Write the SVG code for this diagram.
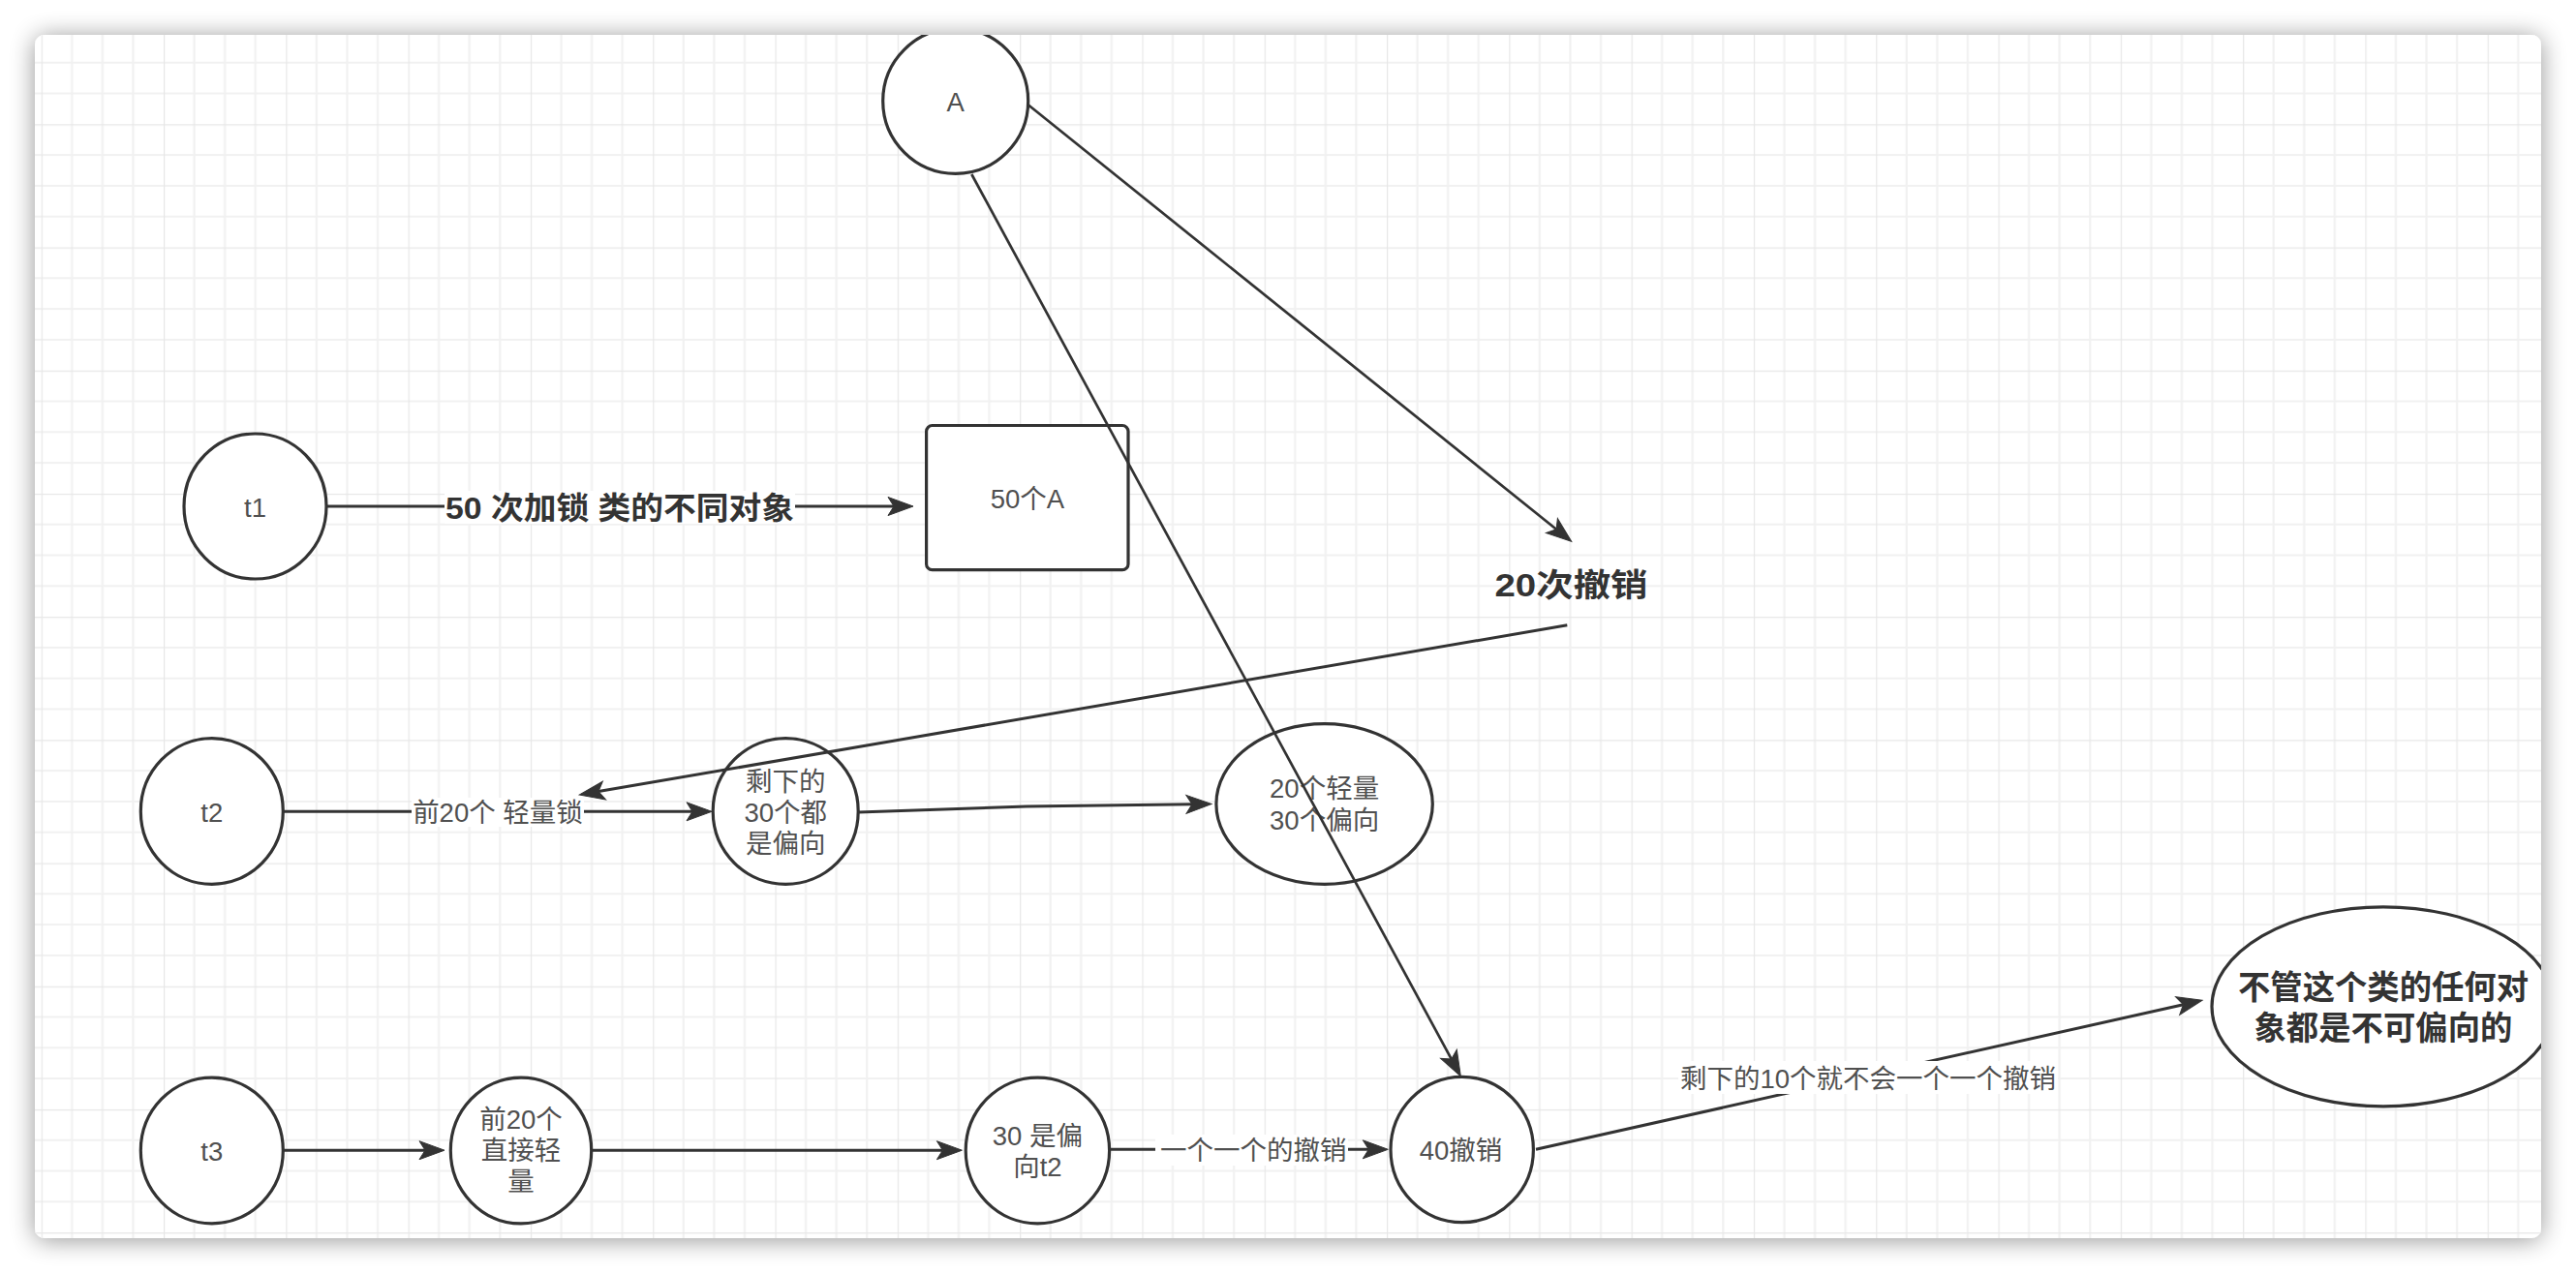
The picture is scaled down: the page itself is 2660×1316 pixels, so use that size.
<svg xmlns="http://www.w3.org/2000/svg" width="2660" height="1316" viewBox="0 0 2660 1316">
<defs>
<style>
.node{fill:#ffffff;stroke:#333333;stroke-width:3.2}
.edge{fill:none;stroke:#333333;stroke-width:3}
.thin{stroke-width:2.7}
.t{font-family:"Liberation Sans","Noto Sans CJK SC",sans-serif;font-size:27.5px;fill:#505050;text-anchor:middle;dominant-baseline:central}
.b{font-family:"Liberation Sans","Noto Sans CJK SC",sans-serif;font-weight:bold;fill:#333333;text-anchor:middle;dominant-baseline:central}
.lbg{fill:#ffffff}
</style>
<filter id="sh" x="-5%" y="-8%" width="110%" height="116%">
<feGaussianBlur in="SourceAlpha" stdDeviation="13"/>
<feOffset dy="2"/>
<feComponentTransfer><feFuncA type="linear" slope="0.42"/></feComponentTransfer>
<feMerge><feMergeNode/><feMergeNode in="SourceGraphic"/></feMerge>
</filter>
<pattern id="grid" patternUnits="userSpaceOnUse" x="42.7" y="1.1" width="126.3" height="127.2">
<g stroke="#f1f1f1" stroke-width="2.2">
<line x1="31.575" y1="0" x2="31.575" y2="127.2"/>
<line x1="63.15" y1="0" x2="63.15" y2="127.2"/>
<line x1="94.725" y1="0" x2="94.725" y2="127.2"/>
<line x1="0" y1="31.8" x2="126.3" y2="31.8"/>
<line x1="0" y1="63.6" x2="126.3" y2="63.6"/>
<line x1="0" y1="95.4" x2="126.3" y2="95.4"/>
</g>
<g stroke="#e7e7e7" stroke-width="2.4">
<line x1="0" y1="0" x2="0" y2="127.2"/>
<line x1="0" y1="0" x2="126.3" y2="0"/>
</g>
</pattern>
<clipPath id="card"><rect x="36" y="36" width="2588" height="1243" rx="10"/></clipPath>
<marker id="arr" markerUnits="userSpaceOnUse" markerWidth="30" markerHeight="22" refX="0" refY="0" orient="auto" overflow="visible">
<path d="M20,0 L-6,-9.5 L0,0 L-6,9.5 Z" fill="#333333" stroke="#333333" stroke-width="1"/>
</marker>
</defs>
<rect x="0" y="0" width="2660" height="1316" fill="#ffffff"/>
<rect x="36" y="36" width="2588" height="1243" rx="10" fill="#ffffff" filter="url(#sh)"/>
<rect x="36" y="36" width="2588" height="1243" rx="10" fill="url(#grid)"/>
<g clip-path="url(#card)">
<g id="node-A"><ellipse class="node" cx="986.7" cy="104.3" rx="75" ry="75"/><text class="t" x="986.7" y="105">A</text></g>
<g id="node-t1"><ellipse class="node" cx="263.5" cy="523" rx="73.5" ry="75"/><text class="t" x="263.5" y="524">t1</text></g>
<g id="node-50A"><rect class="node" x="956.6" y="439.5" width="208.4" height="149.2" rx="6"/><text class="t" x="1061" y="515">50个A</text></g>
<g id="node-20cx"><text class="b" x="1622.5" y="604" font-size="33" textLength="158" lengthAdjust="spacingAndGlyphs">20次撤销</text></g>
<g id="node-t2"><ellipse class="node" cx="218.8" cy="838" rx="73.5" ry="75.4"/><text class="t" x="218.8" y="839">t2</text></g>
<g id="node-remain30"><ellipse class="node" cx="811.2" cy="838" rx="75" ry="75.4"/>
<text class="t" x="811.2" y="807">剩下的</text><text class="t" x="811.2" y="839">30个都</text><text class="t" x="811.2" y="871">是偏向</text></g>
<g id="node-20light"><ellipse class="node" cx="1367.6" cy="830.5" rx="111.7" ry="82.8"/>
<text class="t" x="1367.6" y="814">20个轻量</text><text class="t" x="1367.6" y="847">30个偏向</text></g>
<g id="node-t3"><ellipse class="node" cx="218.8" cy="1188.5" rx="73.5" ry="75.4"/><text class="t" x="218.8" y="1189">t3</text></g>
<g id="node-first20"><ellipse class="node" cx="538" cy="1188.5" rx="72.7" ry="75.4"/>
<text class="t" x="538" y="1156">前20个</text><text class="t" x="538" y="1188">直接轻</text><text class="t" x="538" y="1220">量</text></g>
<g id="node-30bias"><ellipse class="node" cx="1071.4" cy="1188.5" rx="74.2" ry="75.4"/>
<text class="t" x="1071.4" y="1173">30 是偏</text><text class="t" x="1071.4" y="1205">向t2</text></g>
<g id="node-40"><ellipse class="node" cx="1509.7" cy="1187.5" rx="73.7" ry="75.2"/><text class="t" x="1508.5" y="1188">40撤销</text></g>
<g id="node-never"><ellipse class="node" cx="2461" cy="1039.8" rx="177" ry="103"/>
<text class="b" x="2461" y="1020" font-size="34" textLength="300" lengthAdjust="spacingAndGlyphs">不管这个类的任何对</text><text class="b" x="2461" y="1062" font-size="34" textLength="267" lengthAdjust="spacingAndGlyphs">象都是不可偏向的</text></g>
<g id="connectors">
<line class="edge" x1="337" y1="523" x2="923" y2="523" marker-end="url(#arr)"/>
<rect class="lbg" x="459" y="507" width="362" height="34"/>
<text class="b" x="640" y="525" font-size="32" textLength="360" lengthAdjust="spacingAndGlyphs">50 次加锁 类的不同对象</text>
<line class="edge thin" x1="1061.7" y1="108.3" x2="1607.1" y2="546.8" marker-end="url(#arr)"/>
<line class="edge" x1="1618.3" y1="645.7" x2="618" y2="817.6" marker-end="url(#arr)"/>
<line class="edge" x1="292.3" y1="838.3" x2="715" y2="838.3" marker-end="url(#arr)"/>
<rect class="lbg" x="425" y="824" width="178" height="30"/>
<text class="t" x="514" y="839">前20个 轻量锁</text>
<path class="edge" d="M886.5,839 L1060,833 L1231,830.8" marker-end="url(#arr)"/>
<line class="edge thin" x1="1003.3" y1="180" x2="1498.8" y2="1094.1" marker-end="url(#arr)"/>
<line class="edge" x1="292.3" y1="1188.2" x2="439" y2="1188.2" marker-end="url(#arr)"/>
<line class="edge" x1="610.7" y1="1188.2" x2="973.4" y2="1188.2" marker-end="url(#arr)"/>
<line class="edge" x1="1145.6" y1="1187.3" x2="1413.3" y2="1187.3" marker-end="url(#arr)"/>
<rect class="lbg" x="1193" y="1172" width="199" height="32"/>
<text class="t" x="1294.3" y="1188">一个一个的撤销</text>
<line class="edge" x1="1586" y1="1187.3" x2="2254.5" y2="1037.7" marker-end="url(#arr)"/>
<rect class="lbg" x="1733" y="1096" width="392" height="34"/>
<text class="t" x="1929" y="1114">剩下的10个就不会一个一个撤销</text>
</g>
</g>
</svg>
